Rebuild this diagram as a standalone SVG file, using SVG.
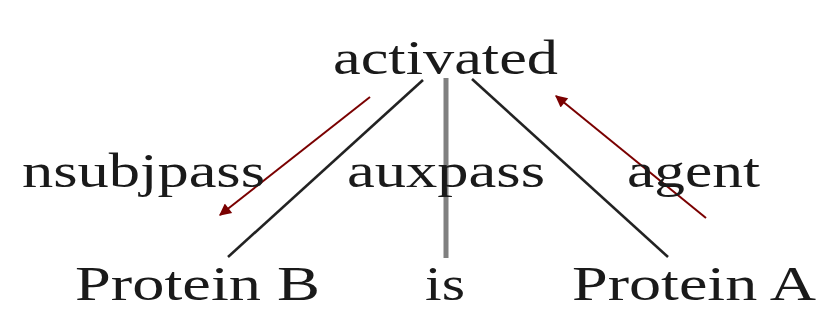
<svg xmlns="http://www.w3.org/2000/svg" width="816" height="330" viewBox="0 0 816 330">
<defs>
<style>
text{font-family:"Liberation Serif","DejaVu Serif",serif;font-size:48px;fill:#1a1a1a}
.edge{stroke:#222;stroke-width:2.6;fill:none}
.aux{stroke:#808080;stroke-width:5;fill:none}
.arr{stroke:#7a0000;stroke-width:2;fill:none;marker-end:url(#ah)}
</style>
<marker id="ah" viewBox="0 0 10 10" refX="9" refY="5" markerWidth="14" markerHeight="12" orient="auto" markerUnits="userSpaceOnUse">
<path d="M0,0 L10,5 L0,10 z" fill="#7a0000"/>
</marker>
</defs>
<rect width="816" height="330" fill="#fff"/>
<g id="connectors">
<line class="edge" x1="423" y1="80" x2="228" y2="257"/>
<line class="aux" x1="446" y1="78" x2="446" y2="258"/>
<line class="edge" x1="472" y1="79" x2="668" y2="257"/>
<line class="arr" x1="370" y1="97" x2="220" y2="215"/>
<line class="arr" x1="706" y1="218" x2="556" y2="96"/>
<text x="22" y="187" textLength="243" lengthAdjust="spacingAndGlyphs">nsubjpass</text>
<text x="347" y="187" textLength="198" lengthAdjust="spacingAndGlyphs">auxpass</text>
<text x="627" y="187" textLength="133" lengthAdjust="spacingAndGlyphs">agent</text>
</g>
<g id="activated"><text x="333" y="74" textLength="225" lengthAdjust="spacingAndGlyphs">activated</text></g>
<g id="proteinB"><text x="75" y="300" textLength="245" lengthAdjust="spacingAndGlyphs">Protein B</text></g>
<g id="is"><text x="425" y="300" textLength="40" lengthAdjust="spacingAndGlyphs">is</text></g>
<g id="proteinA"><text x="572" y="300" textLength="244" lengthAdjust="spacingAndGlyphs">Protein A</text></g>
</svg>
